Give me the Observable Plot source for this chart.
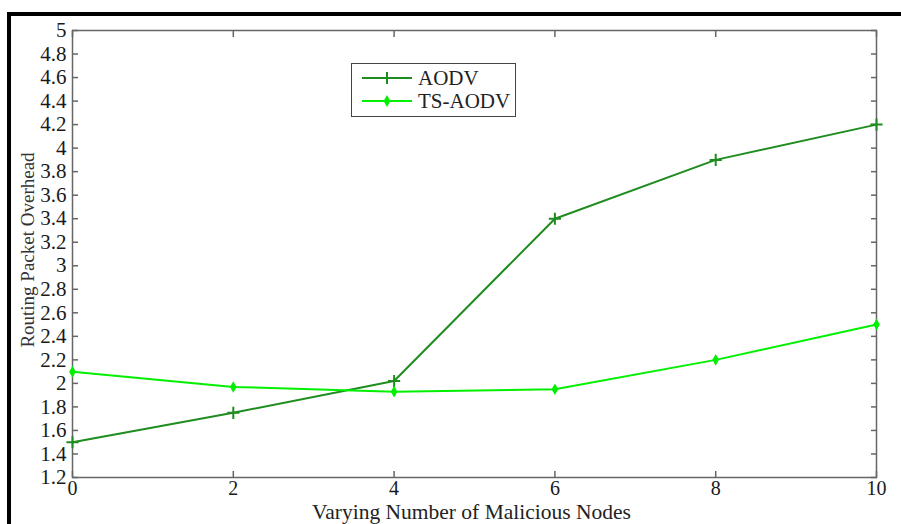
<!DOCTYPE html>
<html><head><meta charset="utf-8">
<script src="https://cdn.jsdelivr.net/npm/d3@7"></script>
<script src="https://cdn.jsdelivr.net/npm/@observablehq/plot@0.6"></script>
<style>
html,body{margin:0;padding:0;background:#fff;}
#wrap{position:relative;width:901px;height:524px;overflow:hidden;font-family:"Liberation Serif",serif;}
#border{position:absolute;left:7px;top:12px;right:-10px;bottom:-10px;border-top:4px solid #000;border-left:4px solid #000;pointer-events:none;}
#legend{position:absolute;left:351px;top:63px;width:165px;height:54px;}
</style></head>
<body><div id="wrap"><div id="chart"></div><div id="border"></div><div id="legend"></div></div>
<script>
const nodes = [0, 2, 4, 6, 8, 10];
const aodv = [1.5, 1.75, 2.02, 3.4, 3.9, 4.2];
const tsAodv = [2.1, 1.97, 1.93, 1.95, 2.2, 2.5];
const seriesNames = ["AODV", "TS-AODV"];
const seriesColors = ["#1f8c1f", "#00f000"];
const yTicks = d3.range(12, 51, 2).map(d => d / 10);
const xTicks = [0, 2, 4, 6, 8, 10];
const xLabel = "Varying Number of Malicious Nodes";
const yLabel = "Routing Packet Overhead";

const rowsA = nodes.map((x, i) => ({x, y: aodv[i], s: seriesNames[0]}));
const rowsT = nodes.map((x, i) => ({x, y: tsAodv[i], s: seriesNames[1]}));

const chart = Plot.plot({
  width: 901,
  height: 524,
  marginLeft: 72,
  marginRight: 25,
  marginTop: 30,
  marginBottom: 47,
  style: {fontFamily: "'Liberation Serif', serif", color: "#1a1a1a", background: "transparent"},
  x: {domain: [0, 10]},
  y: {domain: [1.2, 5]},
  color: {domain: seriesNames, range: seriesColors},
  marks: [
    Plot.frame({stroke: "#666", strokeWidth: 1.5}),
    Plot.axisY(yTicks, {tickSize: -6, tickPadding: 12, stroke: "#666", strokeWidth: 1.5, fontSize: 21, tickFormat: d => `${d}`, label: null}),
    Plot.axisY(yTicks, {anchor: "right", tickSize: -6, stroke: "#666", strokeWidth: 1.5, tickFormat: () => "", label: null}),
    Plot.axisX(xTicks, {tickSize: -6, tickPadding: 9, stroke: "#666", strokeWidth: 1.5, fontSize: 20, tickFormat: d => `${d}`, label: null}),
    Plot.axisX(xTicks, {anchor: "top", tickSize: -6, stroke: "#666", strokeWidth: 1.5, tickFormat: () => "", label: null}),
    Plot.text([yLabel], {frameAnchor: "left", textAnchor: "middle", dx: -45, dy: -4, rotate: -90, fontSize: 19, fill: "#333"}),
    Plot.text([xLabel], {frameAnchor: "bottom", textAnchor: "middle", dx: -3, dy: 41, fontSize: 21.5, fill: "#222"}),
    Plot.line(rowsA, {x: "x", y: "y", stroke: "s", strokeWidth: 2}),
    Plot.line(rowsT, {x: "x", y: "y", stroke: "s", strokeWidth: 2}),
    Plot.dot(rowsA, {x: "x", y: "y", stroke: "s", symbol: "plus", r: 4, strokeWidth: 2}),
    Plot.dot(rowsT, {x: "x", y: "y", fill: "s", symbol: "diamond", r: 3.5})
  ]
});
document.getElementById("chart").appendChild(chart);

// legend (HTML overlay, inside the plot box)
const lg = d3.select("#legend").append("svg").attr("width", 165).attr("height", 54);
lg.append("rect").attr("x", 0.5).attr("y", 0.5).attr("width", 164).attr("height", 53)
  .attr("fill", "#fff").attr("stroke", "#444").attr("stroke-width", 1);
seriesNames.forEach((name, i) => {
  const g = lg.append("g").attr("transform", `translate(0,${15 + i * 23})`);
  g.append("line").attr("x1", 11).attr("x2", 61).attr("stroke", seriesColors[i]).attr("stroke-width", 2);
  if (i === 0) {
    g.append("path").attr("d", d3.symbol(d3.symbolPlus, 50)()).attr("transform", "translate(36,0)")
      .attr("fill", "none").attr("stroke", seriesColors[i]).attr("stroke-width", 2);
  } else {
    g.append("path").attr("d", d3.symbol(d3.symbolDiamond, 40)()).attr("transform", "translate(36,0)")
      .attr("fill", seriesColors[i]);
  }
  g.append("text").attr("x", 67).attr("dy", "0.35em").attr("font-size", 21)
    .attr("font-family", "'Liberation Serif', serif").attr("fill", "#222").text(name);
});
</script>
</body></html>
